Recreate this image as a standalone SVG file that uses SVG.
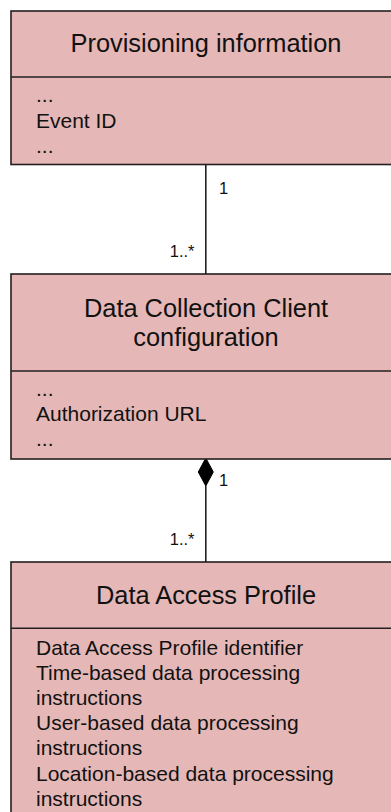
<svg xmlns="http://www.w3.org/2000/svg" width="391" height="812" viewBox="0 0 391 812">
<style>
.box{fill:#E5B8B7;stroke:#231F20;stroke-width:1.6}
.div{stroke:#231F20;stroke-width:1.6}
.title{font-family:"Liberation Sans",Arial,sans-serif;font-size:25.4px;fill:#111;text-anchor:middle}
.attr{font-family:"Liberation Sans",Arial,sans-serif;font-size:21px;fill:#111}
.mult{font-family:"Liberation Sans",Arial,sans-serif;font-size:16.5px;fill:#111}
.line{stroke:#231F20;stroke-width:1.6;fill:none}
</style>
<rect width="391" height="812" fill="#fff"/>
<g id="connectors">
<line class="line" x1="205.8" y1="164.5" x2="205.8" y2="274"/>
<text class="mult" x="219" y="193.5">1</text>
<text class="mult" x="194.5" y="257" text-anchor="end">1..*</text>
<line class="line" x1="205.8" y1="486" x2="205.8" y2="562"/>
<polygon points="205.8,458 213.3,472 205.8,486 198.3,472" fill="#000" stroke="#000" stroke-width="1"/>
<text class="mult" x="219" y="486">1</text>
<text class="mult" x="194.5" y="545" text-anchor="end">1..*</text>
</g>
<g id="provisioning-information">
<rect class="box" x="11" y="11" width="390" height="153.5"/>
<line class="div" x1="11" y1="77" x2="401" y2="77"/>
<text class="title" x="206" y="51.5">Provisioning information</text>
<text class="attr" x="36" y="101.5">...</text>
<text class="attr" x="36" y="128">Event ID</text>
<text class="attr" x="36" y="153">...</text>
</g>
<g id="data-collection-client-configuration">
<rect class="box" x="11" y="274" width="390" height="185"/>
<line class="div" x1="11" y1="371" x2="401" y2="371"/>
<text class="title" x="206" y="316.5">Data Collection Client</text>
<text class="title" x="206" y="345.5">configuration</text>
<text class="attr" x="36" y="396">...</text>
<text class="attr" x="36" y="421">Authorization URL</text>
<text class="attr" x="36" y="446">...</text>
</g>
<g id="data-access-profile">
<rect class="box" x="11" y="562" width="390" height="270"/>
<line class="div" x1="11" y1="628.3" x2="401" y2="628.3"/>
<text class="title" x="206" y="604">Data Access Profile</text>
<text class="attr" x="36" y="654.5">Data Access Profile identifier</text>
<text class="attr" x="36" y="679.7">Time-based data processing</text>
<text class="attr" x="36" y="704.9">instructions</text>
<text class="attr" x="36" y="730.1">User-based data processing</text>
<text class="attr" x="36" y="755.3">instructions</text>
<text class="attr" x="36" y="780.5">Location-based data processing</text>
<text class="attr" x="36" y="805.7">instructions</text>
</g>
</svg>
